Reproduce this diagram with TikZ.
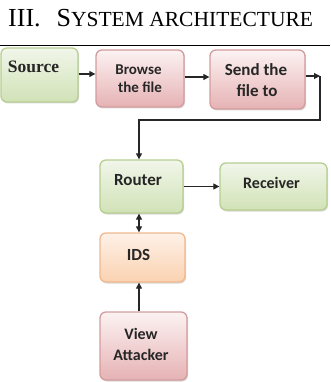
\documentclass[tikz,border=0pt]{standalone}
\usepackage{fontspec}
\setmainfont{Liberation Serif}
\newfontfamily\boxfont{Carlito}
\usetikzlibrary{arrows.meta,shadows}

\definecolor{grnTop}{HTML}{F1F6EA}
\definecolor{grnBot}{HTML}{D1E2B6}
\definecolor{grnLine}{HTML}{B6CF90}
\definecolor{pnkTop}{HTML}{FCF2F2}
\definecolor{pnkBot}{HTML}{E6B2B4}
\definecolor{pnkLine}{HTML}{D39C9E}
\definecolor{orgTop}{HTML}{FEF1E8}
\definecolor{orgBot}{HTML}{FAD2B0}
\definecolor{orgLine}{HTML}{F1B88E}

\begin{document}
\begin{tikzpicture}[x=1pt,y=-1pt,
  box/.style={draw, line width=1.3pt, rounded corners=6pt, inner sep=0pt,
    drop shadow={opacity=0.25, shadow xshift=1pt, shadow yshift=-1.5pt, fill=black!60}},
  greenbox/.style={box, draw=grnLine, top color=grnTop, bottom color=grnBot},
  pinkbox/.style={box, draw=pnkLine, top color=pnkTop, bottom color=pnkBot},
  orangebox/.style={box, draw=orgLine, top color=orgTop, bottom color=orgBot},
  lbl/.style={inner sep=0pt, anchor=base, text=black!85, font=\boxfont\bfseries\fontsize{17}{20}\selectfont},
  arr/.style={line width=1.1pt, black!85, -{Triangle[length=6pt,width=6pt]}},
  dbl/.style={line width=1.1pt, black!85, {Triangle[length=6pt,width=6pt]}-{Triangle[length=6pt,width=6pt]}}
]
\useasboundingbox (0,0) rectangle (330,382);

% heading and rule
\node[inner sep=0pt, anchor=base west] (title) at (8,27)
  {\fontsize{26}{30}\selectfont III.\hspace{16pt}S\fontsize{21.5}{24}\selectfont YSTEM ARCHITECTURE};
\coordinate (ruleL) at (0,46);
\coordinate (ruleR) at (330,46);
\draw[line width=1pt] (ruleL) -- (ruleR);

% boxes
\node[greenbox, minimum width=77pt, minimum height=54pt] (source) at (39.5,75) {};
\node[pinkbox, minimum width=88pt, minimum height=57pt] (browse) at (140,78.5) {};
\node[pinkbox, minimum width=95pt, minimum height=59pt] (send) at (257.5,79.5) {};
\node[greenbox, minimum width=83pt, minimum height=53pt] (router) at (141.5,186.5) {};
\node[greenbox, minimum width=107pt, minimum height=47pt] (receiver) at (273.5,186.5) {};
\node[orangebox, minimum width=85pt, minimum height=49pt] (ids) at (142.5,257.5) {};
\node[pinkbox, minimum width=87pt, minimum height=68pt] (view) at (143.5,346) {};

% labels
\node[lbl, font=\rmfamily\bfseries\fontsize{17.5}{20}\selectfont] (sourceT) at (33.5,73) {Source};
\node[lbl, font=\boxfont\bfseries\fontsize{15}{18}\selectfont] (browseT1) at (138.5,75) {Browse};
\node[lbl, font=\boxfont\bfseries\fontsize{15}{18}\selectfont] (browseT2) at (140,93) {the file};
\node[lbl] (sendT1) at (256,76) {Send the};
\node[lbl] (sendT2) at (257,97) {file to};
\node[lbl] (routerT) at (138,185) {Router};
\node[lbl, font=\boxfont\bfseries\fontsize{16}{19}\selectfont] (receiverT) at (271.5,188) {Receiver};
\node[lbl] (idsT) at (138.5,260.5) {IDS};
\node[lbl, font=\boxfont\bfseries\fontsize{16}{19}\selectfont] (viewT1) at (141,339) {View};
\node[lbl, font=\boxfont\bfseries\fontsize{16}{19}\selectfont] (viewT2) at (141,360) {Attacker};

% connectors
\coordinate (turnA) at (320,76);
\coordinate (turnB) at (320,120);
\coordinate (turnC) at (139,120);

\draw[arr] ([yshift=1pt]source.east) -- ([yshift=1pt]source.east -| browse.west);
\draw[arr] ([yshift=1.5pt]browse.east) -- ([yshift=1.5pt]browse.east -| send.west);
\draw[arr] (send.east |- turnA) -- (turnA);
\draw[arr, line join=miter] (turnA) -- (turnB) -- (turnC) -- (turnC |- router.north);
\draw[arr] (router.east) -- (router.east -| receiver.west);
\draw[dbl] (turnC |- router.south) -- (turnC |- ids.north);
\draw[arr] (turnC |- view.north) -- (turnC |- ids.south);
\end{tikzpicture}
\end{document}
